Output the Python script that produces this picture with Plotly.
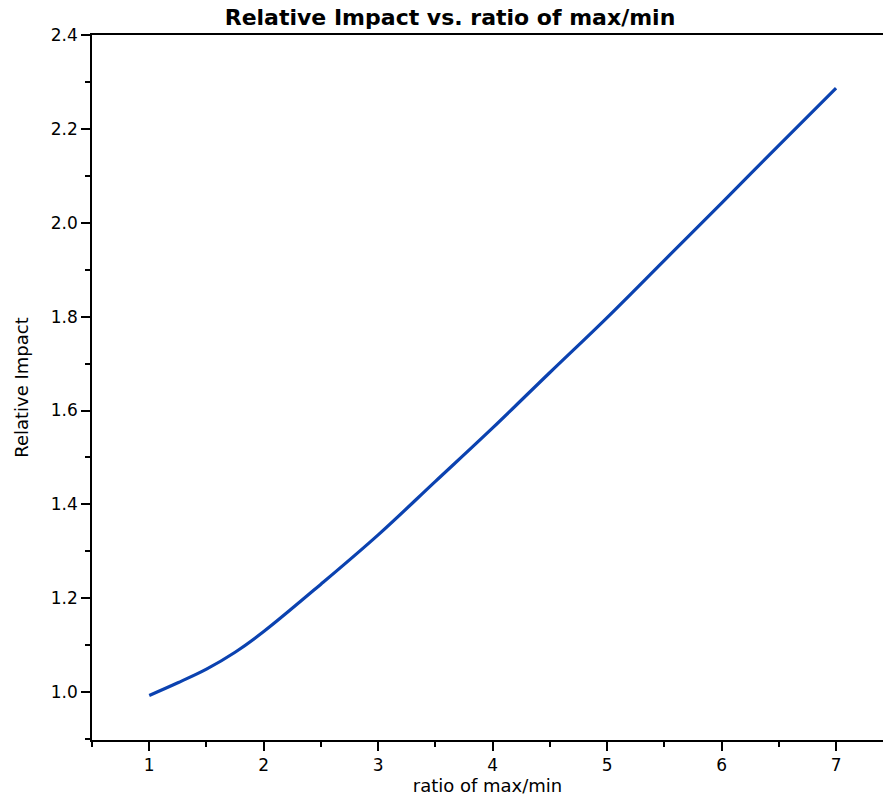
import plotly.graph_objects as go

ratio = [1.0, 1.25, 1.5, 1.75, 2.0, 2.5, 3.0, 3.5, 4.0, 4.5, 5.0, 5.5, 6.0, 6.5, 7.0]
impact = [0.993, 1.020, 1.049, 1.085, 1.129, 1.230, 1.335, 1.449, 1.563, 1.681, 1.798, 1.920, 2.042, 2.165, 2.287]

x_ticks = [1, 2, 3, 4, 5, 6, 7]
y_ticks = [1.0, 1.2, 1.4, 1.6, 1.8, 2.0, 2.2, 2.4]

font_family = "DejaVu Sans"

fig = go.Figure()
fig.add_trace(go.Scatter(x=ratio, y=impact, mode="lines",
                         line=dict(color="#0b42b0", width=3.2, shape="spline"),
                         showlegend=False))

fig.update_layout(
    width=883, height=796,
    margin=dict(l=92, r=0, t=35, b=56),
    paper_bgcolor="white", plot_bgcolor="white",
    font=dict(family=font_family, size=17, color="black"),
    title=dict(text="<b>Relative Impact vs. ratio of max/min</b>",
               x=450 / 883, xanchor="center", xref="container",
               y=1 - 17 / 796, yanchor="middle", yref="container",
               font=dict(size=22, family=font_family, color="black")),
)

fig.update_xaxes(
    range=[0.5, 7.41], tickvals=x_ticks, ticktext=[str(v) for v in x_ticks],
    showgrid=False, zeroline=False,
    showline=True, linecolor="black", linewidth=1.5, mirror=True,
    ticks="outside", ticklen=9, tickwidth=1.5, tickcolor="black",
    minor=dict(dtick=0.5, tick0=0.5, ticks="outside", ticklen=5, tickwidth=1.5, tickcolor="black"),
    tickfont=dict(size=17),
    title=dict(text="ratio of max/min", font=dict(size=18), standoff=3),
)
fig.update_yaxes(
    range=[0.898, 2.4], tickvals=y_ticks, ticktext=[f"{v:.1f}" for v in y_ticks],
    showgrid=False, zeroline=False,
    showline=True, linecolor="black", linewidth=1.5,
    ticks="outside", ticklen=9, tickwidth=1.5, tickcolor="black",
    minor=dict(dtick=0.1, tick0=0.9, ticks="outside", ticklen=5, tickwidth=1.5, tickcolor="black"),
    tickfont=dict(size=17),
    title=dict(text="Relative Impact", font=dict(size=18), standoff=18),
)

fig.write_html("out.html", config={"displayModeBar": False},
               post_script="document.body.style.margin='0px';")
